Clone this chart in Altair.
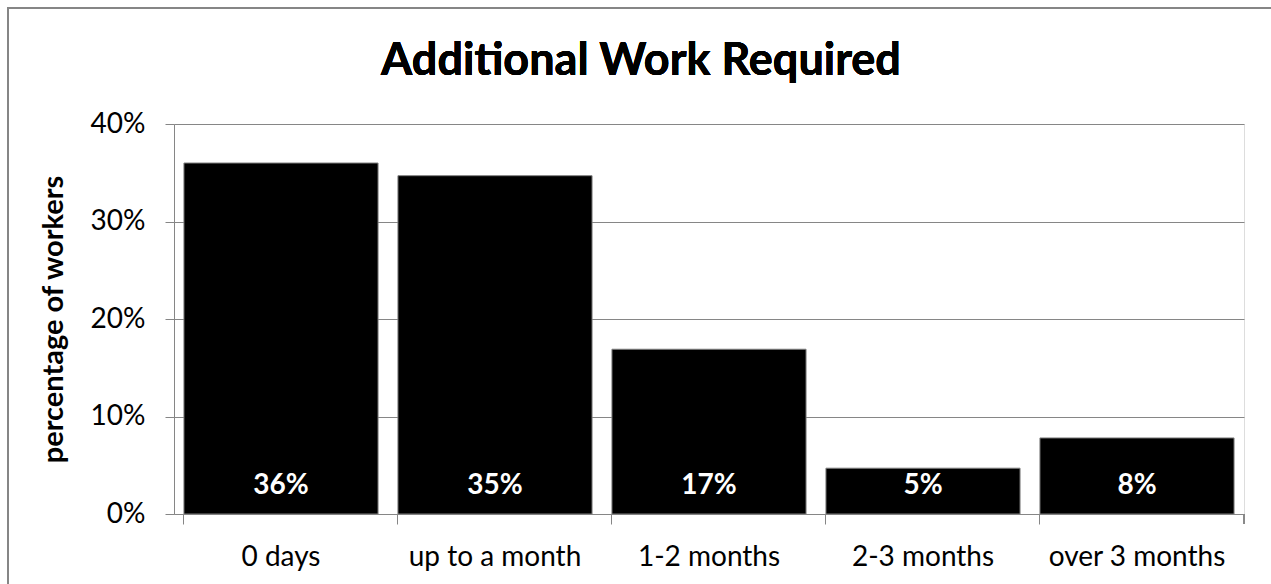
import altair as alt
import pandas as pd

categories = ["0 days", "up to a month", "1-2 months", "2-3 months", "over 3 months"]
values = [0.360, 0.347, 0.169, 0.047, 0.078]

df = pd.DataFrame({"category": categories, "value": values})

FONT = "Lato"
GRAY = "#868686"

x_enc = alt.X(
    "category:N",
    sort=categories,
    title=None,
    scale=alt.Scale(paddingInner=0.093, paddingOuter=0.0465),
    axis=alt.Axis(
        labelAngle=0,
        labelFont=FONT,
        labelFontSize=28,
        labelColor="#000000",
        labelPadding=19,
        tickSize=10,
        tickColor=GRAY,
        domainColor=GRAY,
        bandPosition=0,
        grid=False,
    ),
)

y_enc = alt.Y(
    "value:Q",
    scale=alt.Scale(domain=[0, 0.4], nice=False),
    axis=alt.Axis(
        values=[0, 0.1, 0.2, 0.3, 0.4],
        format=".0%",
        labelFont=FONT,
        labelFontSize=28,
        labelColor="#000000",
        labelPadding=20,
        tickSize=9,
        tickColor=GRAY,
        domainColor=GRAY,
        gridColor=GRAY,
        title="percentage of workers",
        titleFont=FONT,
        titleFontSize=29,
        titleFontWeight="bold",
        titleColor="#000000",
        titleAngle=-90,
        titleAlign="center",
        titleBaseline="alphabetic",
        titleX=-112,
        titleY=195,
    ),
)

bars = alt.Chart(df).mark_bar(color="#000000", stroke="#808080", strokeWidth=1).encode(
    x=x_enc, y=y_enc
)

labels = alt.Chart(df).mark_text(
    color="#ffffff",
    font=FONT,
    fontSize=28,
    fontWeight="bold",
    baseline="alphabetic",
    dy=-20,
).encode(
    x=alt.X("category:N", sort=categories),
    y=alt.datum(0),
    text=alt.Text("value:Q", format=".0%"),
)

# right end tick of the x axis
end_tick = alt.Chart(df).mark_rule(color=GRAY, strokeWidth=1).encode(
    x=alt.value(1070), y=alt.value(390), y2=alt.value(400)
)

# chart title drawn as a text mark, centred on the whole chart
title = alt.Chart(df).mark_text(
    text="Additional Work Required",
    font=FONT,
    fontSize=45,
    fontWeight="bold",
    color="#000000",
    align="center",
    baseline="alphabetic",
).encode(x=alt.value(467), y=alt.value(-49))

border = alt.Chart(df).mark_rect(fill=None, stroke=GRAY, strokeWidth=1.5).encode(
    x=alt.value(-166), x2=alt.value(1200), y=alt.value(-116), y2=alt.value(600)
)

chart = alt.layer(border, bars, labels, end_tick, title).properties(
    width=1070,
    height=390,
    autosize=alt.AutoSizeParams(type="none"),
    padding={"left": 174, "top": 124, "right": 27, "bottom": 70},
).configure_view(stroke=None).configure(background="#ffffff")

chart.save("out.html", embed_options={"renderer": "svg", "actions": False})
